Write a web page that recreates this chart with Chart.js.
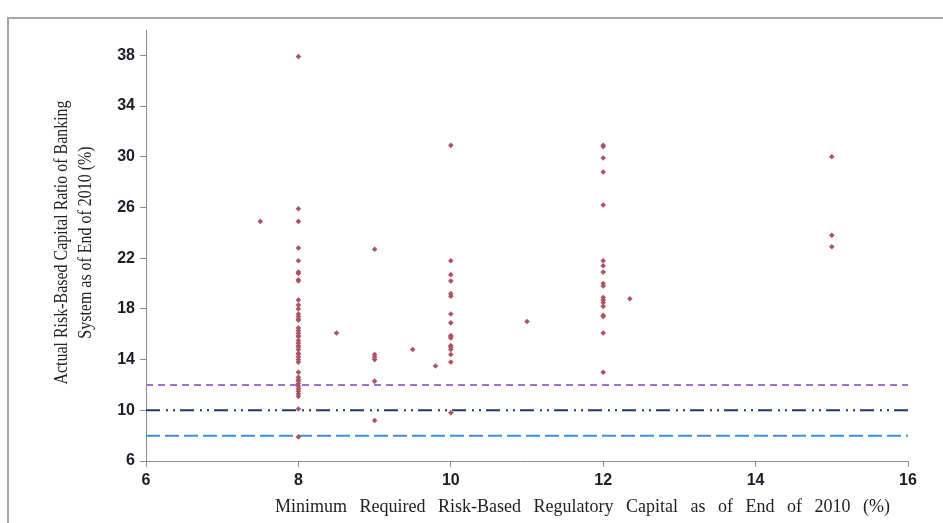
<!DOCTYPE html>
<html lang="en">
<head>
    <meta charset="UTF-8">
    <title>Minimum Required vs Actual Risk-Based Capital</title>
    <script src="https://cdn.jsdelivr.net/npm/chart.js"></script>
    <style>
        body { margin: 0; background: #fff; }
        #wrap { width: 943px; height: 523px; }
    </style>
</head>
<body>
    <div id="wrap">
        <canvas id="capitalChart" width="943" height="523"></canvas>
    </div>

    <script>
        // Actual ratios, grouped by minimum requirement
        const ratiosAt8 = [37.9, 25.9, 24.9, 22.8, 21.8, 20.9, 20.8, 20.3, 20.2, 18.7, 18.3, 18.0, 17.6, 17.4,
            17.2, 17.1, 16.5, 16.3, 16.1, 15.9, 15.8, 15.5, 15.3, 15.1, 15.0, 14.8, 14.5, 14.4, 14.2, 14.0,
            13.8, 13.0, 12.6, 12.4, 12.3, 12.1, 11.9, 11.7, 11.5, 11.3, 11.1, 10.1, 7.9];
        const ratiosAt9 = [22.7, 14.4, 14.2, 14.0, 12.3, 9.2];
        const ratiosAt10 = [30.9, 21.8, 20.7, 20.2, 19.2, 19.0, 17.6, 16.9, 15.9, 15.8, 15.7, 15.1, 15.0,
            14.8, 14.4, 13.8, 9.8];
        const ratiosAt12 = [30.9, 30.8, 29.9, 28.8, 26.2, 21.8, 21.4, 20.9, 20.0, 19.8, 18.9, 18.7, 18.5,
            18.2, 17.5, 17.4, 16.1, 13.0];
        const ratiosAt15 = [30.0, 23.8, 22.9];
        // single countries with other requirements
        const otherMinimum = [7.5, 8.5, 9.5, 9.8, 11, 12.35];
        const otherRatio = [24.9, 16.1, 14.8, 13.5, 17.0, 18.8];

        // reference levels (purple, navy, blue)
        const thresholds = [12, 10, 8];

        const xTicks = [6, 8, 10, 12, 14, 16];
        const yTicks = [6, 10, 14, 18, 22, 26, 30, 34, 38];

        const xTitle = 'Minimum Required Risk-Based Regulatory Capital as of End of 2010 (%)';
        const yTitle = ['Actual Risk-Based Capital Ratio of Banking', 'System as of End of 2010 (%)'];

        // build scatter points
        const points = [];
        [[8, ratiosAt8], [9, ratiosAt9], [10, ratiosAt10], [12, ratiosAt12], [15, ratiosAt15]].forEach(([x, list]) => {
            list.forEach(y => points.push({ x: x, y: y }));
        });
        otherMinimum.forEach((x, i) => points.push({ x: x, y: otherRatio[i] }));

        const lineStyles = [
            { color: '#9b72cf', dash: [7, 5], width: 2 },
            { color: '#1f3a6b', dash: [14, 6, 2, 5, 2, 5], width: 2 },
            { color: '#3f8fd8', dash: [14, 5], width: 2 }
        ];

        const thresholdSets = thresholds.map((level, i) => ({
            type: 'line',
            data: [{ x: xTicks[0], y: level }, { x: xTicks[xTicks.length - 1], y: level }],
            borderColor: lineStyles[i].color,
            borderDash: lineStyles[i].dash,
            borderWidth: lineStyles[i].width,
            pointRadius: 0,
            fill: false
        }));

        // frame + axis titles
        const decor = {
            id: 'decor',
            beforeDraw(chart) {
                const ctx = chart.ctx;
                ctx.save();
                ctx.strokeStyle = '#a6a6a6';
                ctx.lineWidth = 2;
                ctx.strokeRect(8, 18, 960, 540);
                ctx.restore();
            },
            afterDraw(chart) {
                const ctx = chart.ctx;
                const area = chart.chartArea;
                ctx.save();
                ctx.fillStyle = '#222';
                ctx.textBaseline = 'middle';

                // x title
                ctx.font = '18px "Liberation Serif"';
                ctx.textAlign = 'left';
                ctx.wordSpacing = '8px';
                ctx.fillText(xTitle, area.left + 129, area.bottom + 46);

                // y title, two lines, narrow
                ctx.wordSpacing = '0px';
                ctx.textAlign = 'center';
                ctx.font = '19px "Liberation Serif"';
                const cy = (area.top + area.bottom) / 2;
                [62, 86].forEach((cx, i) => {
                    ctx.save();
                    ctx.translate(cx, cy - 3);
                    ctx.rotate(-Math.PI / 2);
                    ctx.scale(0.84, 1);
                    ctx.fillText(yTitle[i], 0, 0);
                    ctx.restore();
                });
                ctx.restore();
            }
        };

        const tickFont = { family: '"Liberation Sans", Arial, sans-serif', size: 16, weight: 'bold' };

        new Chart(document.getElementById('capitalChart').getContext('2d'), {
            type: 'scatter',
            data: {
                datasets: [{
                    data: points,
                    backgroundColor: '#ad5462',
                    borderWidth: 0,
                    pointStyle: 'rectRot',
                    pointRadius: 2.8
                }].concat(thresholdSets)
            },
            options: {
                responsive: false,
                animation: false,
                layout: { padding: { top: 30, right: 35, left: 0, bottom: 0 } },
                plugins: {
                    legend: { display: false },
                    tooltip: { enabled: false }
                },
                scales: {
                    x: {
                        type: 'linear',
                        min: 6,
                        max: 16,
                        afterBuildTicks: s => { s.ticks = xTicks.map(v => ({ value: v })); },
                        afterFit: s => { s.height = 62; s.paddingLeft = 0; s.paddingRight = 0; },
                        ticks: { font: tickFont, color: '#1c1c2a', padding: 4 },
                        grid: { drawOnChartArea: false, drawTicks: true, tickLength: 6, color: '#8c8c8c' },
                        border: { color: '#8c8c8c', width: 1 }
                    },
                    y: {
                        type: 'linear',
                        min: 6,
                        max: 40,
                        afterBuildTicks: s => { s.ticks = yTicks.map(v => ({ value: v })); },
                        afterFit: s => { s.width = 146; s.paddingTop = 0; s.paddingBottom = 0; },
                        ticks: { font: tickFont, color: '#1c1c2a', padding: 5 },
                        grid: { drawOnChartArea: false, drawTicks: true, tickLength: 6, color: '#8c8c8c' },
                        border: { color: '#8c8c8c', width: 1 }
                    }
                }
            },
            plugins: [decor]
        });
    </script>
</body>
</html>
